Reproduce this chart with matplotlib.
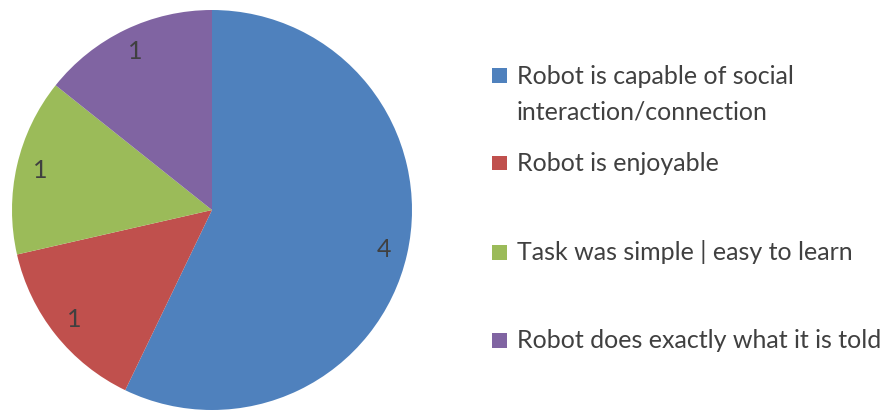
import matplotlib
matplotlib.use("Agg")
import matplotlib.pyplot as plt
from matplotlib.patches import Rectangle

# data
categorias = ["Robot is capable of social\ninteraction/connection",
              "Robot is enjoyable",
              "Task was simple | easy to learn",
              "Robot does exactly what it is told"]
valores = [4, 1, 1, 1]
colores = ["#4F81BD", "#C0504D", "#9BBB59", "#8064A2"]

W, H = 883, 411
plt.rcParams["font.family"] = ["Lato", "DejaVu Sans"]
texto = "#404040"

fig = plt.figure(figsize=(W / 100, H / 100), dpi=100)

# pie: center (212, 210) px, radius 200 px
cx, cy, r = 212, 210, 200
ax = fig.add_axes([(cx - r) / W, (H - cy - r) / H, 2 * r / W, 2 * r / H])
wedges, etiquetas = ax.pie(valores, colors=colores, startangle=90, counterclock=False,
                           labels=[str(v) for v in valores], labeldistance=0.88,
                           textprops={"fontsize": 18, "color": texto})
for t in etiquetas:
    t.set_ha("center")
    t.set_va("center")
ax.set_xlim(-1, 1)
ax.set_ylim(-1, 1)
ax.set_aspect("equal")
ax.axis("off")

# leyenda a mano (la primera entrada ocupa dos lineas)
marcas_y = [76, 163, 252, 340]
for cat, col, my in zip(categorias, colores, marcas_y):
    fig.patches.append(Rectangle((492 / W, (H - my - 7.5) / H), 15 / W, 15 / H,
                                 transform=fig.transFigure, facecolor=col, edgecolor="none"))
    for i, linea in enumerate(cat.split("\n")):
        fig.text(517 / W, (H - (my + 8) - i * 35) / H, linea, fontsize=18, color=texto,
                 ha="left", va="baseline")

fig.savefig("out.png", dpi=100)
